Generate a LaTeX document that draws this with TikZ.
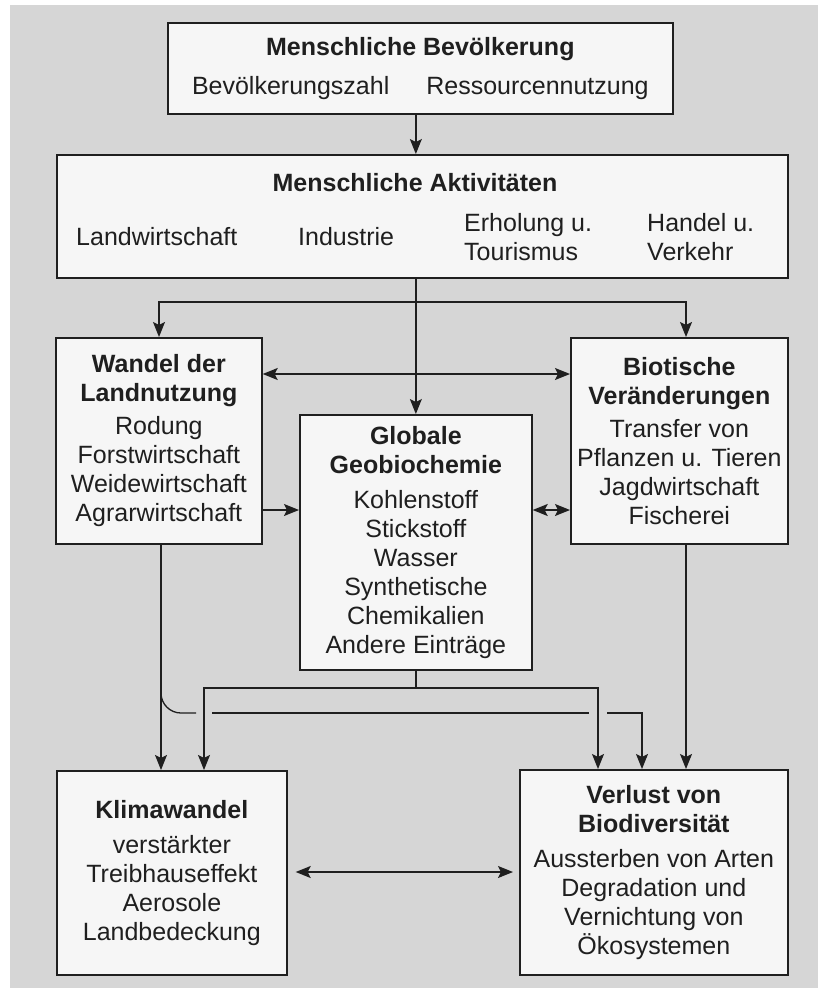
\documentclass[tikz,border=0pt]{standalone}
\usepackage{fontspec}
\setmainfont{Liberation Sans}
\usetikzlibrary{arrows.meta, positioning}
\definecolor{bggrey}{gray}{0.84}
\definecolor{boxfill}{gray}{0.965}
\definecolor{ink}{gray}{0.12}
\tikzset{
    box/.style={
        draw=ink,
        fill=boxfill,
        line width=1.7pt,
        anchor=north west,
        align=center,
        inner sep=0pt
    },
    item/.style={anchor=west, align=left, inner sep=0pt},
    conn/.style={draw=ink, line width=1.3pt},
    line/.style={-{Stealth[length=15pt, width=12pt, inset=3pt]}, draw=ink, line width=1.3pt},
    dline/.style={{Stealth[length=15pt, width=12pt, inset=3pt]}-{Stealth[length=15pt, width=12pt, inset=3pt]}, draw=ink, line width=1.3pt},
    every node/.style={font=\fontsize{25}{29}\selectfont, text=ink}
}

\begin{document}
\begin{tikzpicture}[x=1pt, y=-1pt]
\useasboundingbox (0,0) rectangle (818,988);
\fill[white] (0,0) rectangle (818,988);
\fill[bggrey] (10,5) rectangle (818,988);

% top boxes
\node[box, minimum width=505pt, minimum height=91pt] (pop) at (167,22)
    {\textbf{Menschliche Bevölkerung}\\[10pt]Bevölkerungszahl\hspace{37pt}Ressourcennutzung};
\node[box, minimum width=731pt, minimum height=123pt] (act) at (56,154) {};
\node (acttitle) at (415,183) {\textbf{Menschliche Aktivitäten}};
\node[item] (lw) at (76,237) {Landwirtschaft};
\node[item] (ind) at (298,237) {Industrie};
\node[item] (erh) at (464,237) {Erholung u.\\Tourismus};
\node[item] (hv) at (647,237) {Handel u.\\Verkehr};

% middle row
\node[box, minimum width=206pt, minimum height=206pt] (land) at (55,337)
    {\textbf{Wandel der}\\\textbf{Landnutzung}\\[4pt]Rodung\\Forstwirtschaft\\Weidewirtschaft\\Agrarwirtschaft};
\node[box, minimum width=232pt, minimum height=255pt] (geo) at (299,414)
    {\textbf{Globale}\\\textbf{Geobiochemie}\\[6pt]Kohlenstoff\\Stickstoff\\Wasser\\Synthetische\\Chemikalien\\Andere Einträge};
\node[box, minimum width=217pt, minimum height=206pt] (bio) at (570,337)
    {\textbf{Biotische}\\\textbf{Veränderungen}\\[4pt]Transfer von\\Pflanzen u. Tieren\\Jagdwirtschaft\\Fischerei};

% bottom row
\node[box, minimum width=230pt, minimum height=204pt] (klima) at (56,770)
    {\textbf{Klimawandel}\\[6pt]verstärkter\\Treibhauseffekt\\Aerosole\\Landbedeckung};
\node[box, minimum width=268pt, minimum height=205pt] (verlust) at (519,769)
    {\textbf{Verlust von}\\\textbf{Biodiversität}\\[6pt]Aussterben von Arten\\Degradation und\\Vernichtung von\\Ökosystemen};

% routing points
\coordinate (fork) at (415,302);
\coordinate (rowa) at (0,374);
\coordinate (rowb) at (0,510);
\coordinate (rowc) at (0,688);
\coordinate (rowd) at (0,713);
\coordinate (rowe) at (0,872);
\coordinate (xf) at (159,0);
\coordinate (xa) at (161,0);
\coordinate (xb) at (204,0);
\coordinate (xc) at (598,0);
\coordinate (xd) at (642,0);
\coordinate (xe) at (686,0);

% connectors
\draw[line] (pop.south -| geo) -- (act.north -| geo);
\draw[line] (act.south -| geo) -- (geo.north);
\draw[line] (fork) -| (land.north -| xf);
\draw[line] (fork) -| (bio.north -| xe);
\draw[dline] (land.east |- rowa) -- (bio.west |- rowa);
\draw[line] (land.east |- rowb) -- (geo.west |- rowb);
\draw[dline] (geo.east |- rowb) -- (bio.west |- rowb);

\draw[line] (land.south -| xa) -- (klima.north -| xa);
\draw[conn, rounded corners=20pt] (land.south -| xa) |- ([xshift=-8pt]xb |- rowd);
\draw[conn] ([xshift=8pt]xb |- rowd) -- ([xshift=-9pt]xc |- rowd);
\draw[line] ([xshift=9pt]xc |- rowd) -| (verlust.north -| xd);
\draw[conn] (geo.south) -- (geo.south |- rowc);
\draw[line] (geo.south |- rowc) -| (klima.north -| xb);
\draw[line] (geo.south |- rowc) -| (verlust.north -| xc);
\draw[line] (bio.south -| xe) -- (verlust.north -| xe);
\draw[dline, shorten <=8pt, shorten >=6pt] (klima.east |- rowe) -- (verlust.west |- rowe);
\end{tikzpicture}
\end{document}
